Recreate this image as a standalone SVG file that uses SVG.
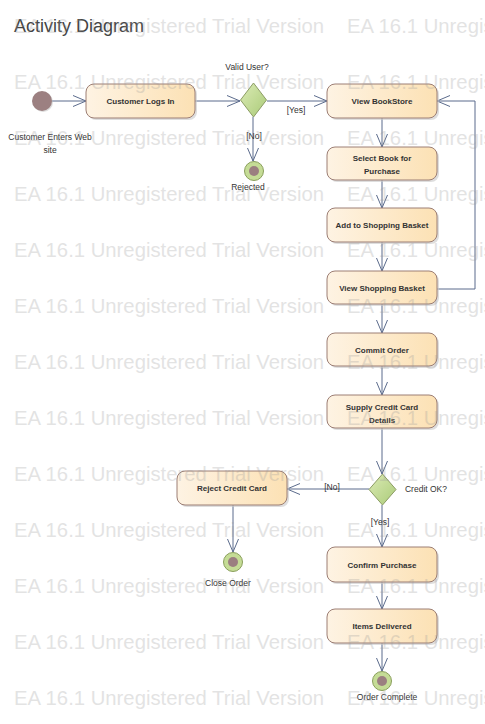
<svg xmlns="http://www.w3.org/2000/svg" width="485" height="724" viewBox="0 0 485 724">
<style>
.act{fill:url(#gAct);stroke:#9c7e74;stroke-width:1}
.sh{fill:#c8c8c8;opacity:0.6}
.dec{fill:url(#gDec);stroke:#8c9c64;stroke-width:1}
.fo{fill:#c5dc96;stroke:#8a9f5c;stroke-width:1}
.fi{fill:#9b7f80}
.lbl{font-family:"Liberation Sans",Arial,sans-serif;font-size:8px;font-weight:bold;fill:#333;text-anchor:middle}
.txt{font-family:"Liberation Sans",Arial,sans-serif;font-size:8.5px;fill:#333;text-anchor:middle}
.con{fill:none;stroke:#5b6b8c;stroke-width:1;marker-end:url(#arr)}
.wm{font-family:"Liberation Sans",Arial,sans-serif;font-size:20.3px;fill:#999;opacity:0.27}
</style>
<defs>
<linearGradient id="gAct" x1="0" y1="0" x2="1" y2="0">
<stop offset="0" stop-color="#fef3e3"/>
<stop offset="1" stop-color="#fce1b4"/>
</linearGradient>
<linearGradient id="gDec" x1="0" y1="0" x2="1" y2="1">
<stop offset="0" stop-color="#dcebb6"/>
<stop offset="1" stop-color="#aacb78"/>
</linearGradient>
<marker id="arr" viewBox="0 0 14 12" refX="13" refY="6" markerWidth="14" markerHeight="12" markerUnits="userSpaceOnUse" orient="auto">
<path d="M0,0.5 L13,6 L0,11.5" fill="none" stroke="#5b6b8c" stroke-width="1"/>
</marker>
</defs>
<rect width="485" height="724" fill="#fff"/>
<text x="14" y="32" font-family="Liberation Sans,Arial,sans-serif" font-size="18" fill="#444">Activity Diagram</text>

<g id="connectors">
<path class="con" d="M52,101 L86,101"/>
<path class="con" d="M195,101 L240,101"/>
<path class="con" d="M267,101 L327,101"/>
<path class="con" d="M253,117 L253,161"/>
<path class="con" d="M382,118 L382,147"/>
<path class="con" d="M382,180 L382,208"/>
<path class="con" d="M382,242 L382,271"/>
<path class="con" d="M437,289 L475,289 L475,101 L437,101"/>
<path class="con" d="M382,304 L382,333"/>
<path class="con" d="M382,366 L382,395"/>
<path class="con" d="M382,428 L382,474"/>
<path class="con" d="M369,489 L287,489"/>
<path class="con" d="M382,505 L382,547"/>
<path class="con" d="M233,505 L233,552"/>
<path class="con" d="M382,582 L382,609"/>
<path class="con" d="M382,643 L382,671"/>
<text class="txt" x="296" y="113">[Yes]</text>
<text class="txt" x="254" y="139">[No]</text>
<text class="txt" x="332" y="490">[No]</text>
<text class="txt" x="380" y="525">[Yes]</text>
</g>

<g id="start">
<circle cx="43" cy="102" r="10" fill="#bbb" opacity="0.5"/>
<circle cx="42" cy="101" r="10" fill="#9c8081"/>
<text class="txt" x="50" y="140">Customer Enters Web</text>
<text class="txt" x="50" y="153">site</text>
</g>

<g id="customerLogsIn">
<rect class="sh" x="88" y="86" width="109" height="34" rx="8"/>
<rect class="act" x="86" y="84" width="109" height="34" rx="8"/>
<text class="lbl" x="140.5" y="104">Customer Logs In</text>
</g>

<g id="validUser">
<path class="dec" d="M253.5,83 L266.5,100 L253.5,117 L240.5,100 Z"/>
<text class="txt" x="247" y="70">Valid User?</text>
</g>

<g id="rejected">
<circle class="fo" cx="254" cy="171" r="9.5"/>
<circle class="fi" cx="254" cy="171" r="5"/>
<text class="txt" x="248" y="190">Rejected</text>
</g>

<g id="viewBookStore">
<rect class="sh" x="329" y="86" width="110" height="34" rx="8"/>
<rect class="act" x="327" y="84" width="110" height="34" rx="8"/>
<text class="lbl" x="382" y="104">View BookStore</text>
</g>

<g id="selectBook">
<rect class="sh" x="329" y="149" width="110" height="33" rx="8"/>
<rect class="act" x="327" y="147" width="110" height="33" rx="8"/>
<text class="lbl" x="382" y="161">Select Book for</text>
<text class="lbl" x="382" y="174">Purchase</text>
</g>

<g id="addToBasket">
<rect class="sh" x="329" y="210" width="110" height="34" rx="8"/>
<rect class="act" x="327" y="208" width="110" height="34" rx="8"/>
<text class="lbl" x="382" y="228">Add to Shopping Basket</text>
</g>

<g id="viewBasket">
<rect class="sh" x="329" y="273" width="110" height="33" rx="8"/>
<rect class="act" x="327" y="271" width="110" height="33" rx="8"/>
<text class="lbl" x="382" y="291">View Shopping Basket</text>
</g>

<g id="commitOrder">
<rect class="sh" x="329" y="335" width="110" height="33" rx="8"/>
<rect class="act" x="327" y="333" width="110" height="33" rx="8"/>
<text class="lbl" x="382" y="353">Commit Order</text>
</g>

<g id="supplyCard">
<rect class="sh" x="329" y="397" width="110" height="33" rx="8"/>
<rect class="act" x="327" y="395" width="110" height="33" rx="8"/>
<text class="lbl" x="382" y="410">Supply Credit Card</text>
<text class="lbl" x="382" y="423">Details</text>
</g>

<g id="creditOK">
<path class="dec" d="M382.5,474 L396,489.5 L382.5,505 L369,489.5 Z"/>
<text class="txt" x="426" y="492">Credit OK?</text>
</g>

<g id="rejectCard">
<rect class="sh" x="179" y="473" width="110" height="34" rx="8"/>
<rect class="act" x="177" y="471" width="110" height="34" rx="8"/>
<text class="lbl" x="232" y="491">Reject Credit Card</text>
</g>

<g id="closeOrder">
<circle class="fo" cx="233" cy="562" r="9.5"/>
<circle class="fi" cx="233" cy="562" r="5"/>
<text class="txt" x="228" y="586">Close Order</text>
</g>

<g id="confirmPurchase">
<rect class="sh" x="329" y="549" width="110" height="35" rx="8"/>
<rect class="act" x="327" y="547" width="110" height="35" rx="8"/>
<text class="lbl" x="382" y="568">Confirm Purchase</text>
</g>

<g id="itemsDelivered">
<rect class="sh" x="329" y="611" width="110" height="34" rx="8"/>
<rect class="act" x="327" y="609" width="110" height="34" rx="8"/>
<text class="lbl" x="382" y="629">Items Delivered</text>
</g>

<g id="orderComplete">
<circle class="fo" cx="382" cy="681" r="9.5"/>
<circle class="fi" cx="382" cy="681" r="5"/>
<text class="txt" x="387" y="700">Order Complete</text>
</g>

<g id="watermark">
<text class="wm" x="14" y="33">EA 16.1 Unregistered Trial Version</text><text class="wm" x="347" y="33">EA 16.1 Unregistered Trial Version</text>
<text class="wm" x="14" y="89">EA 16.1 Unregistered Trial Version</text><text class="wm" x="347" y="89">EA 16.1 Unregistered Trial Version</text>
<text class="wm" x="14" y="145">EA 16.1 Unregistered Trial Version</text><text class="wm" x="347" y="145">EA 16.1 Unregistered Trial Version</text>
<text class="wm" x="14" y="201">EA 16.1 Unregistered Trial Version</text><text class="wm" x="347" y="201">EA 16.1 Unregistered Trial Version</text>
<text class="wm" x="14" y="257">EA 16.1 Unregistered Trial Version</text><text class="wm" x="347" y="257">EA 16.1 Unregistered Trial Version</text>
<text class="wm" x="14" y="313">EA 16.1 Unregistered Trial Version</text><text class="wm" x="347" y="313">EA 16.1 Unregistered Trial Version</text>
<text class="wm" x="14" y="369">EA 16.1 Unregistered Trial Version</text><text class="wm" x="347" y="369">EA 16.1 Unregistered Trial Version</text>
<text class="wm" x="14" y="425">EA 16.1 Unregistered Trial Version</text><text class="wm" x="347" y="425">EA 16.1 Unregistered Trial Version</text>
<text class="wm" x="14" y="481">EA 16.1 Unregistered Trial Version</text><text class="wm" x="347" y="481">EA 16.1 Unregistered Trial Version</text>
<text class="wm" x="14" y="537">EA 16.1 Unregistered Trial Version</text><text class="wm" x="347" y="537">EA 16.1 Unregistered Trial Version</text>
<text class="wm" x="14" y="593">EA 16.1 Unregistered Trial Version</text><text class="wm" x="347" y="593">EA 16.1 Unregistered Trial Version</text>
<text class="wm" x="14" y="649">EA 16.1 Unregistered Trial Version</text><text class="wm" x="347" y="649">EA 16.1 Unregistered Trial Version</text>
<text class="wm" x="14" y="705">EA 16.1 Unregistered Trial Version</text><text class="wm" x="347" y="705">EA 16.1 Unregistered Trial Version</text>
</g>
</svg>
